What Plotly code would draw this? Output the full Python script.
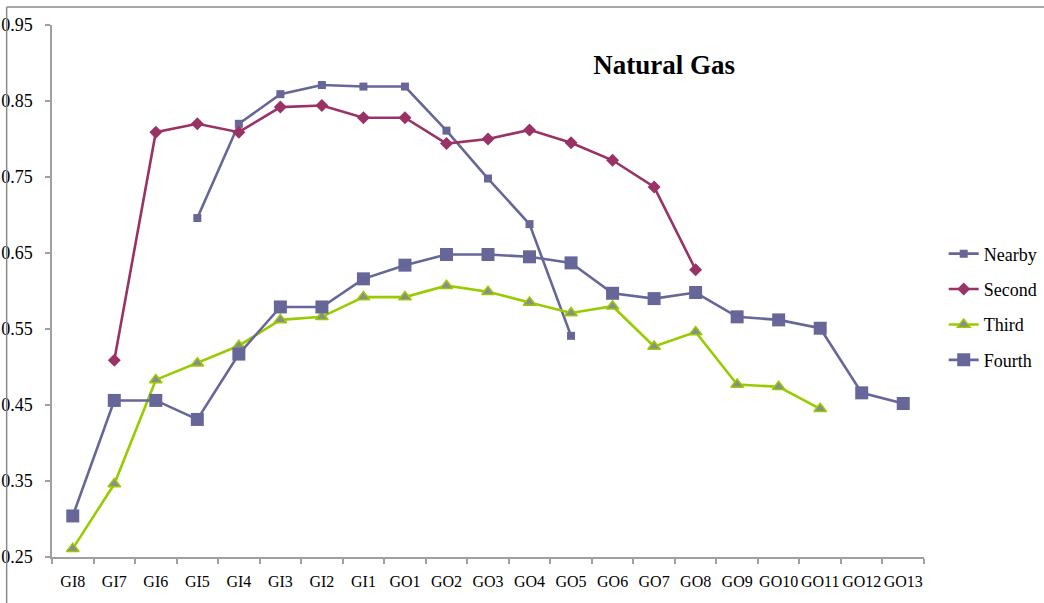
"""Natural Gas chart: correlation by contract position (Nearby .. Fourth)."""

import plotly.graph_objects as go

CATEGORIES = [
    "GI8", "GI7", "GI6", "GI5", "GI4", "GI3", "GI2", "GI1",
    "GO1", "GO2", "GO3", "GO4", "GO5", "GO6", "GO7", "GO8",
    "GO9", "GO10", "GO11", "GO12", "GO13",
]

# None = no value for that position
NEARBY = [
    None, None, None, 0.696, 0.820, 0.859, 0.871, 0.869,
    0.869, 0.811, 0.748, 0.688, 0.541, None, None, None,
    None, None, None, None, None,
]
SECOND = [
    None, 0.509, 0.809, 0.820, 0.809, 0.842, 0.844, 0.828,
    0.828, 0.794, 0.800, 0.812, 0.795, 0.772, 0.737, 0.628,
    None, None, None, None, None,
]
THIRD = [
    0.261, 0.346, 0.483, 0.505, 0.528, 0.562, 0.566, 0.592,
    0.592, 0.607, 0.599, 0.585, 0.571, 0.580, 0.527, 0.546,
    0.477, 0.474, 0.445, None, None,
]
FOURTH = [
    0.304, 0.456, 0.456, 0.431, 0.517, 0.579, 0.579, 0.616,
    0.634, 0.648, 0.648, 0.645, 0.637, 0.597, 0.590, 0.598,
    0.566, 0.562, 0.551, 0.466, 0.452,
]

Y_TICKS = [0.25, 0.35, 0.45, 0.55, 0.65, 0.75, 0.85, 0.95]

FONT = "Liberation Serif"
PURPLE = "#666699"
PLUM = "#993366"
LIME = "#99cc00"
AXIS = "#a0a0a0"

fig = go.Figure()

series = [
    ("Nearby", NEARBY, PURPLE, dict(symbol="square", size=8, color=PURPLE)),
    ("Second", SECOND, PLUM, dict(symbol="diamond", size=10, color=PLUM)),
    ("Third", THIRD, LIME, dict(symbol="triangle-up", size=11, color="#8c8c8c",
                                line=dict(color=LIME, width=1.5))),
    ("Fourth", FOURTH, PURPLE, dict(symbol="square", size=13, color=PURPLE)),
]
for name, values, color, marker in series:
    fig.add_trace(
        go.Scatter(
            x=CATEGORIES,
            y=values,
            name=name,
            legendgroup=name,
            mode="lines+markers",
            line={"color": color, "width": 2.6},
            marker=marker,
            connectgaps=False,
            cliponaxis=False,
        )
    )

# chart-area frame (only top and left edges are inside the picture)
frame = {"color": "#8a8a8a", "width": 1.5}
fig.add_shape(type="line", xref="paper", yref="paper",
              x0=-0.052, x1=-0.052, y0=-0.2, y1=1.0338, line=frame)
fig.add_shape(type="line", xref="paper", yref="paper",
              x0=-0.052, x1=1.2, y0=1.0338, y1=1.0338, line=frame)

fig.update_layout(
    width=1044,
    height=603,
    margin={"l": 52, "r": 120, "t": 25, "b": 46, "autoexpand": False},
    paper_bgcolor="white",
    plot_bgcolor="white",
    font={"family": FONT, "color": "#000000", "size": 16},
    title={
        "text": "<b>Natural Gas</b>",
        "font": {"family": FONT, "size": 27, "color": "#000000"},
        "x": 0.702,
        "xref": "paper",
        "xanchor": "center",
        "y": 0.893,
        "yref": "container",
        "yanchor": "middle",
    },
    legend={
        "x": 1.0226,
        "xanchor": "left",
        "y": 0.470,
        "yanchor": "middle",
        "font": {"family": FONT, "size": 18, "color": "#000000"},
        "tracegroupgap": 9,
        "bgcolor": "rgba(0,0,0,0)",
        "itemsizing": "trace",
    },
    showlegend=True,
)
fig.update_xaxes(
    type="category",
    categoryorder="array",
    categoryarray=CATEGORIES,
    range=[-0.5, len(CATEGORIES) - 0.5],
    automargin=False,
    showgrid=False,
    showline=True,
    linecolor=AXIS,
    linewidth=1.5,
    ticks="outside",
    tickson="boundaries",
    ticklen=5,
    tickcolor=AXIS,
    tickwidth=1.5,
    tickangle=0,
    tickfont={"family": FONT, "size": 16},
    ticklabelstandoff=9,
)
fig.update_yaxes(
    range=[0.25, 0.95],
    tickvals=Y_TICKS,
    ticktext=[f"{v:.2f}" for v in Y_TICKS],
    automargin=False,
    showgrid=False,
    zeroline=False,
    showline=True,
    linecolor=AXIS,
    linewidth=1.5,
    ticks="outside",
    ticklen=5,
    tickcolor=AXIS,
    tickwidth=1.5,
    tickfont={"family": FONT, "size": 18},
    ticklabelstandoff=9,
)

# the page's default 8px body margin would shift the whole figure
fig.write_html(
    "out.html",
    config={"displayModeBar": False},
    post_script="document.body.style.margin='0';",
)
